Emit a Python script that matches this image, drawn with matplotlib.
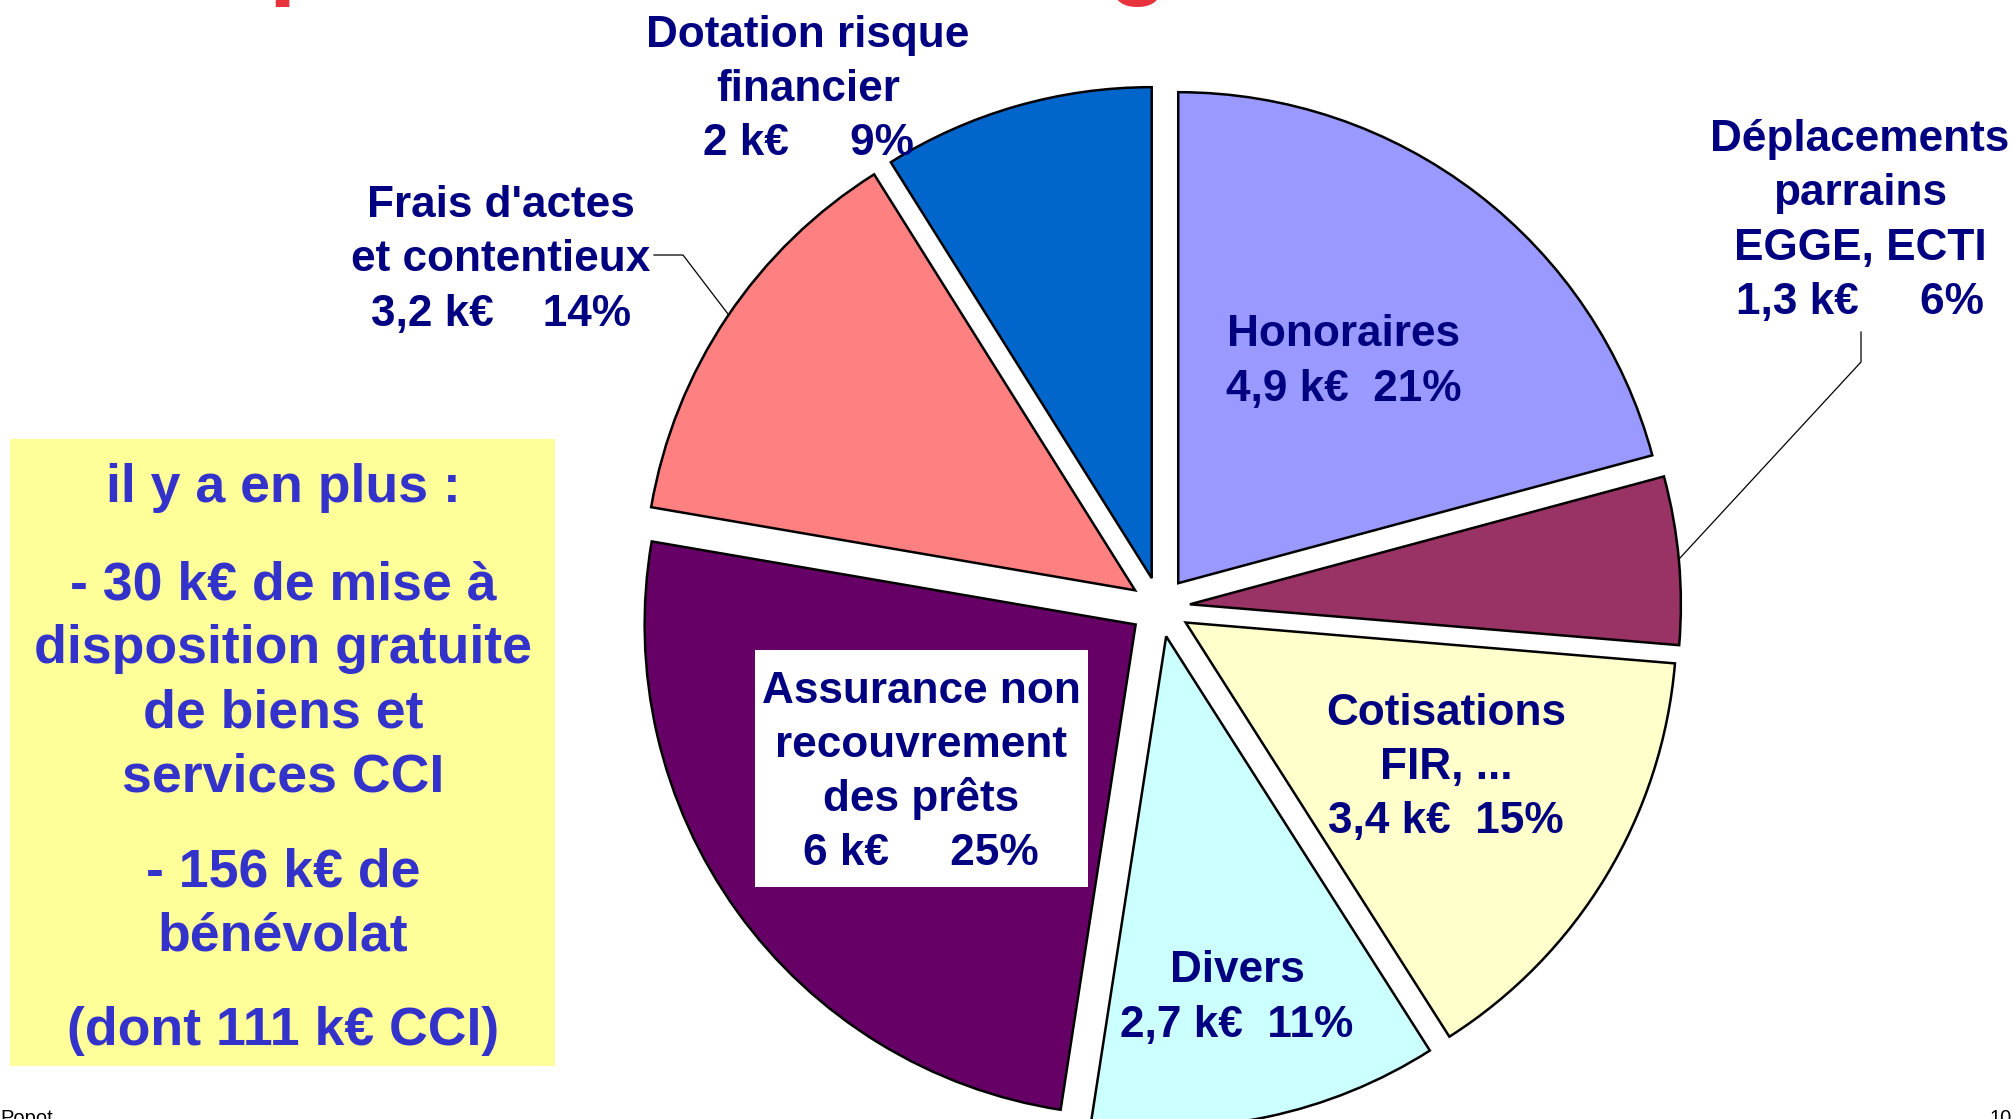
import matplotlib
matplotlib.use("Agg")
import matplotlib.pyplot as plt
from matplotlib.patches import Rectangle

W, H = 2011, 1119

# ---- data (k€) ----
categories = ["Honoraires", "Déplacements parrains EGGE, ECTI", "Cotisations FIR, ...",
              "Divers", "Assurance non recouvrement des prêts",
              "Frais d'actes et contentieux", "Dotation risque financier"]
values_keur = [4.9, 1.3, 3.45, 2.7, 5.95, 3.15, 2.1]
amount_labels = ["4,9 k€", "1,3 k€", "3,4 k€", "2,7 k€", "6 k€", "3,2 k€", "2 k€"]
percent_labels = ["21%", "6%", "15%", "11%", "25%", "14%", "9%"]
name_lines = [["Honoraires"],
              ["Déplacements", "parrains", "EGGE, ECTI"],
              ["Cotisations", "FIR, ..."],
              ["Divers"],
              ["Assurance non", "recouvrement", "des prêts"],
              ["Frais d'actes", "et contentieux"],
              ["Dotation risque", "financier"]]
slice_colors = ["#9999FF", "#993366", "#FFFFCC", "#CCFFFF", "#660066", "#FF8080", "#0066CC"]

note_paragraphs = [["il y a en plus :"],
                   ["- 30 k€ de mise à", "disposition gratuite", "de biens et", "services CCI"],
                   ["- 156 k€ de", "bénévolat"],
                   ["(dont 111 k€ CCI)"]]

# ---- layout / style ----
FONT = "Liberation Sans"
NAVY = "#000080"
NOTE_BLUE = "#3333CC"
gap_spaces = [2, 5, 2, 2, 5, 4, 5]
# label (x center, first line center y in image px, line step)
label_pos = [(1344, 330, 55), (1860, 135, 54.5), (1446, 709, 54), (1237, 966, 55),
             (921, 687, 54), (501, 201, 54.5), (808, 31, 54)]
LABEL_FS = 31.8
NOTE_FS = 38.6

fig = plt.figure(figsize=(W / 100, H / 100), dpi=100)
ax = fig.add_axes([0, 0, 1, 1])

def Y(y):
    return H - y

ax.pie(values_keur, colors=slice_colors, startangle=90, counterclock=False,
       center=(1160, Y(607)), radius=491, explode=[30] * len(values_keur),
       wedgeprops=dict(edgecolor="black", linewidth=1.8), frame=False)
ax.set_xlim(0, W)
ax.set_ylim(0, H)
ax.set_aspect("auto")
ax.axis("off")

def draw_lines(lines, x, y0, step, fs, color):
    em = fs * 100 / 72
    for i, line in enumerate(lines):
        ax.text(x, Y(y0 + i * step + 0.36 * em), line, ha="center", va="baseline",
                fontsize=fs, fontweight="bold", color=color, family=FONT, zorder=6)

# white box behind the Assurance label
ax.add_patch(Rectangle((755, Y(887)), 1088 - 755, 887 - 650, facecolor="white",
                       edgecolor="none", zorder=5))

for names, amt, pct, gap, (x, y0, step) in zip(name_lines, amount_labels, percent_labels,
                                                gap_spaces, label_pos):
    lines = names + [amt + " " * gap + pct]
    draw_lines(lines, x, y0, step, LABEL_FS, NAVY)

# leader lines
ax.plot([654, 683, 728], [Y(255), Y(255), Y(314)], color="black", lw=0.9, zorder=4)
ax.plot([1861, 1861, 1680], [Y(332), Y(362), Y(558)], color="black", lw=0.9, zorder=4)

# yellow note box
ax.add_patch(Rectangle((10, Y(1066)), 555 - 10, 1066 - 439, facecolor="#FFFF99",
                       edgecolor="none", zorder=3))
note_starts = [483, 580, 867, 1026]
for para, y0 in zip(note_paragraphs, note_starts):
    draw_lines(para, 283, y0, 64, NOTE_FS, NOTE_BLUE)

# cut-off red title (only descenders visible)
ax.text(141, Y(-14), "Répartition des charges", ha="left", va="baseline", fontsize=72,
        fontweight="bold", color="#E8323C", family=FONT)

# footer
ax.text(0, Y(1124), "Popot", ha="left", va="baseline", fontsize=14.5, color="black", family=FONT)
ax.text(1990, Y(1124), "10", ha="left", va="baseline", fontsize=14.5, color="black", family=FONT)

fig.savefig("out.png", dpi=100)
